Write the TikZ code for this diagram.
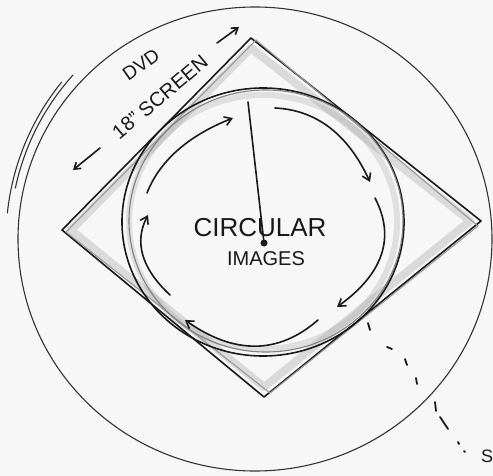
\documentclass[tikz,border=0pt]{standalone}
\usepackage{fontspec}
\setmainfont{Liberation Sans}
\usetikzlibrary{arrows.meta}
\begin{document}
\begin{tikzpicture}[x=1pt,y=-1pt, line cap=round, line join=round,
  ink/.style={draw=black!90, line width=1.6pt},
  thinink/.style={draw=black!80, line width=1.1pt},
  smudge/.style={draw=black!40, line width=8pt, opacity=0.3},
  flow/.style={ink, -{Straight Barb[length=7pt,width=9pt,line width=1.6pt]}},
  dimarrow/.style={ink, -{Straight Barb[length=6pt,width=8pt,line width=1.6pt]}},
  dot/.style={draw=black!90, line width=1.8pt},
  lbl/.style={inner sep=0pt, text=black!90}]
\useasboundingbox (0,0) rectangle (493,476);
\fill[black!3] (0,0) rectangle (493,476);

% outer circle and extra strokes
\draw[thinink] (255,239) ellipse [x radius=237, y radius=232];
\draw[thinink] (255,239) ++(186:249) arc [start angle=186, end angle=219, radius=249];
\draw[thinink] (255,239) ++(192:245) arc [start angle=192, end angle=222, radius=245];

% diamond screen
\coordinate (T) at (251,38);
\coordinate (R) at (481,221);
\coordinate (B) at (264,397);
\coordinate (L) at (62,230);
\draw[smudge] (71,230) -- (251,48) -- (470,221) -- (264,387) -- cycle;
\draw[ink] (L) -- (T) -- (R) -- (B) -- cycle;
\draw[thinink, draw=black!40] (66,232) -- (256,40) -- (478,226) -- (270,393) -- cycle;

% inner circle
\draw[smudge, line width=6pt, opacity=0.25] (263,222) ellipse [x radius=134, y radius=127];
\draw[ink] (263,222) ellipse [x radius=141, y radius=134];
\draw[thinink, draw=black!50] (266,221) ellipse [x radius=137, y radius=131];

% circular flow arrows
\draw[flow] (147,193) .. controls (159.7,160.7) and (188.3,135.7) .. (233,118);
\draw[flow] (275,108) .. controls (316.7,110) and (348.3,134.7) .. (370,182);
\draw[flow] (375,198) .. controls (395.7,237.7) and (383,274) .. (337,307);
\draw[flow] (318,320) .. controls (278.3,354.7) and (234,354.7) .. (185,320);
\draw[flow] (170,295) .. controls (141.3,268.3) and (134,241.7) .. (148,215);

% needle
\coordinate (tip) at (248,102);
\coordinate (hub) at (264,243);
\draw[ink] (tip) -- (hub);
\fill[black!90] (hub) circle (3.5);

% texts
\node[lbl, font=\fontsize{26}{28}\selectfont] (circ) at (260,228) {CIRCULAR};
\node[lbl, font=\fontsize{20}{22}\selectfont] (img) at (266,259) {IMAGES};
\node[lbl, rotate=35, font=\fontsize{19}{20}\selectfont] (dvd) at (141,65) {DVD};
\node[lbl, rotate=40, font=\fontsize{20}{21}\selectfont] (scr) at (160,97) {18" SCREEN};

% dimension arrows
\coordinate (la1) at (100,148);
\coordinate (la2) at (73,170);
\coordinate (ra1) at (217,43);
\coordinate (ra2) at (239,27);
\draw[dimarrow] (la1) -- (la2);
\draw[dimarrow] (ra1) -- (ra2);

% dotted leader
\foreach \a/\b in {{(368,323)}/{(370,330)},{(387,347)}/{(392,349)},{(405,359)}/{(407,365)},{(416,378)}/{(417,384)},{(435,402)}/{(436,411)},{(440,417)}/{(448,429)},{(458,442)}/{(459,444)},{(464,451)}/{(465,452)}}
  \draw[dot] \a -- \b;
\node[lbl, font=\fontsize{18}{20}\selectfont, anchor=west] (s) at (481,456) {S};
\end{tikzpicture}
\end{document}
